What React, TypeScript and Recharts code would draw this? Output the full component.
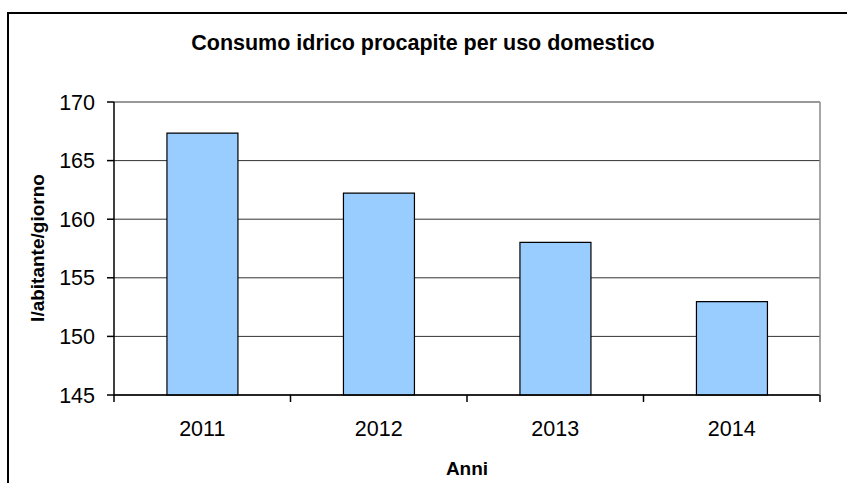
import React from 'react';
import { BarChart, Bar, XAxis, YAxis, CartesianGrid } from 'recharts';

const years = ['2011', '2012', '2013', '2014'];
const consumption = [167.35, 162.22, 158.03, 152.96];
const yTicks = [145, 150, 155, 160, 165, 170];
const boundaryTicks = [0, 1, 2, 3, 4];

const title = 'Consumo idrico procapite per uso domestico';
const yLabel = 'l/abitante/giorno';
const xLabel = 'Anni';

const data = years.map((y, i) => ({ year: y, value: consumption[i], pos: i + 0.5 }));

const W = 847;
const H = 483;
const font = 'Arial, "Liberation Sans", sans-serif';

export default function App() {
  return (
    <div style={{ position: 'fixed', left: 0, top: 0, width: W, height: H, overflow: 'hidden', background: '#fff' }}>
      <div
        style={{
          position: 'absolute',
          left: 7,
          top: 12,
          width: 900,
          height: 600,
          border: '2px solid #000',
          boxSizing: 'border-box',
        }}
      />
      <div style={{ position: 'absolute', left: 0, top: 0 }}>
        <BarChart
          width={W}
          height={H}
          data={data}
          margin={{ top: 102, right: 0, bottom: 0, left: 0 }}
          barCategoryGap="30%"
        >
          <CartesianGrid xAxisId="b" vertical={false} stroke="#333" strokeWidth={1} />
          <XAxis
            xAxisId="a"
            type="number"
            dataKey="pos"
            domain={[0, 4]}
            ticks={boundaryTicks}
            interval={0}
            height={87}
            tickFormatter={() => ''}
            tick={{ fontSize: 1 }}
            tickSize={7}
            axisLine={{ stroke: '#000', strokeWidth: 1.5 }}
            tickLine={{ stroke: '#000', strokeWidth: 1.5 }}
          />
          <XAxis
            xAxisId="b"
            dataKey="year"
            height={1}
            axisLine={false}
            tickLine={false}
            tickSize={6}
            tickMargin={-67}
            tick={{ fill: '#000', fontSize: 21.5, fontFamily: font }}
          />
          <YAxis
            domain={[145, 170]}
            ticks={yTicks}
            width={114}
            interval={0}
            tickSize={7}
            tickMargin={12}
            axisLine={{ stroke: '#000', strokeWidth: 1.5 }}
            tickLine={{ stroke: '#000', strokeWidth: 1.5 }}
            tick={{ fill: '#000', fontSize: 21.5, fontFamily: font }}
          />
          <YAxis
            yAxisId="right"
            orientation="right"
            domain={[145, 170]}
            width={27}
            tick={false}
            tickLine={false}
            axisLine={{ stroke: '#888', strokeWidth: 1.5 }}
          />
          <Bar
            xAxisId="b"
            dataKey="value"
            fill="#99CCFF"
            stroke="#000"
            strokeWidth={1.2}
            isAnimationActive={false}
          />
        </BarChart>
      </div>
      <svg width={W} height={H} style={{ position: 'absolute', left: 0, top: 0, pointerEvents: 'none' }}>
        <text x={423} y={50} textAnchor="middle" fontFamily={font} fontWeight="bold" fontSize={21.5} fill="#000">
          {title}
        </text>
        <text
          x={0}
          y={0}
          transform="translate(44,248) rotate(-90)"
          textAnchor="middle"
          fontFamily={font}
          fontWeight="bold"
          fontSize={19}
          fill="#000"
        >
          {yLabel}
        </text>
        <text x={467} y={475} textAnchor="middle" fontFamily={font} fontWeight="bold" fontSize={19} fill="#000">
          {xLabel}
        </text>
      </svg>
    </div>
  );
}
